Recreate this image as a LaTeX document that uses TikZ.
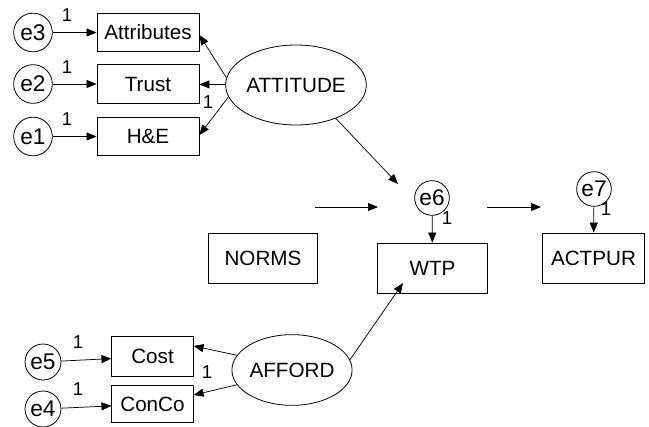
\documentclass[tikz,border=0pt]{standalone}
\usepackage{fontspec}
\setmainfont{Liberation Sans}
\usetikzlibrary{arrows.meta,shapes.geometric}

\begin{document}
\begin{tikzpicture}[x=0.75pt, y=-0.75pt,
    obs/.style={draw, line width=0.6pt, minimum height=29pt, inner sep=1pt,
      font=\fontsize{15.5}{17}\selectfont},
    lat/.style={draw, ellipse, line width=0.6pt, inner sep=0pt,
      font=\fontsize{15.5}{17}\selectfont},
    err/.style={draw, circle, line width=0.6pt, inner sep=0pt,
      minimum size=29pt, font=\fontsize{17}{19}\selectfont},
    lbl/.style={font=\fontsize{14}{15}\selectfont, inner sep=0pt},
    path/.style={line width=0.55pt, -{Triangle[length=7.5pt,width=6pt]}}]
      \useasboundingbox (0,0) rectangle (649,426);
      % measurement part, attitude
      \node[obs, minimum width=76.5pt] (attr) at (148,32.5) {Attributes};
      \node[obs, minimum width=76.5pt] (trust) at (148,84) {Trust};
      \node[obs, minimum width=76.5pt] (he) at (148,136.5) {H\&E};
      \node[err] (e3) at (33,32.5) {e3};
      \node[err] (e2) at (33,84) {e2};
      \node[err] (e1) at (33,136.5) {e1};
      \node[lat, minimum width=85pt, minimum height=60pt] (attitude) at (296,85) {ATTITUDE};
      % measurement part, afford
      \node[obs, minimum width=61pt, minimum height=30pt] (cost) at (152.5,356.5) {Cost};
      \node[obs, minimum width=61pt, minimum height=28pt] (conco) at (152.5,404) {ConCo};
      \node[err, minimum size=27pt] (e5) at (43,362) {e5};
      \node[err, minimum size=27pt] (e4) at (43,409) {e4};
      \node[lat, minimum width=82pt, minimum height=53pt] (afford) at (292,370) {AFFORD};
      % structural part
      \node[obs, minimum width=82pt, minimum height=37.5pt] (norms) at (263,258) {NORMS};
      \node[obs, minimum width=82pt, minimum height=37.5pt] (wtp) at (432.5,268) {WTP};
      \node[obs, minimum width=77pt, minimum height=37.5pt] (actpur) at (593.5,258) {ACTPUR};
      \node[err, minimum size=26pt] (e6) at (432,198) {e6};
      \node[err, minimum size=26pt] (e7) at (594,189) {e7};
      \coordinate (normsout) at (315,207);
      \coordinate (normsin) at (378,207);
      \coordinate (wtpout) at (487,207);
      \coordinate (wtpin) at (541,207);
      \coordinate (attin) at (398,184);
      \coordinate (affin) at (403,283);
      % arrows
      \foreach \e/\v in {e3/attr, e2/trust, e1/he, e5/cost, e4/conco}
        \draw[path] (\e) -- (\v);
      \draw[path] (attitude.174) -- (attr.east |- 0,35);
      \draw[path] (attitude) -- (trust);
      \draw[path] (attitude.190) -- (he.east |- 0,135);
      \draw[path] (afford.165) -- (cost.east |- 0,346);
      \draw[path] (afford.195) -- (conco.east |- 0,395);
      \draw[path] (attitude.-40) -- (attin);
      \draw[path] (afford.10) -- (affin);
      \draw[path] (normsout) -- (normsin);
      \draw[path] (wtpout) -- (wtpin);
      \draw[path] (e6) -- (wtp);
      \draw[path] (e7) -- (actpur);
      % fixed weights
      \node[lbl] at (67,15) {1};
      \node[lbl] at (67,67) {1};
      \node[lbl] at (67,119) {1};
      \node[lbl] at (208,102) {1};
      \node[lbl] at (78,342) {1};
      \node[lbl] at (78,389) {1};
      \node[lbl] at (207,372) {1};
      \node[lbl] at (447,218) {1};
      \node[lbl] at (606,209) {1};
\end{tikzpicture}
\end{document}
